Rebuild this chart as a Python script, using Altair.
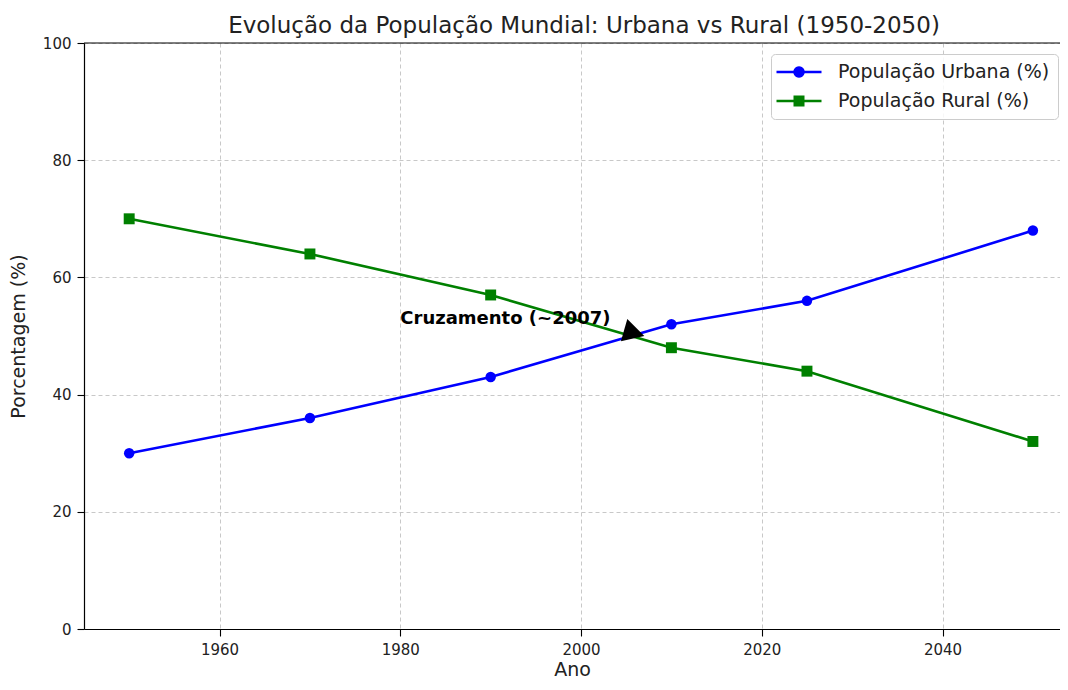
import math
import altair as alt
import pandas as pd

# ---- data ----
anos = [1950, 1970, 1990, 2010, 2025, 2050]
urbana = [30, 36, 43, 52, 56, 68]
rural = [70, 64, 57, 48, 44, 32]
series = ["População Urbana (%)", "População Rural (%)"]
cores = ["#0000ff", "#008000"]
x_ticks = [1960, 1980, 2000, 2020, 2040]
y_ticks = [0, 20, 40, 60, 80, 100]
anot_texto = ["Cruzamento (~2007)"]
anot_texto_ano = [1980]
anot_texto_valor = [52]
anot_alvo_ano = [2007]
anot_alvo_valor = [50]

FONT = "DejaVu Sans"
W, H = 976, 586

df = pd.DataFrame({
    "ano": anos * 2,
    "valor": urbana + rural,
    "serie": [series[0]] * len(anos) + [series[1]] * len(anos),
})
df_txt = pd.DataFrame({"ano": anot_texto_ano, "valor": anot_texto_valor, "t": anot_texto})
df_arr = pd.DataFrame({"ano": anot_alvo_ano, "valor": anot_alvo_valor})
df_one = pd.DataFrame({"k": [0]})

xs = alt.Scale(domain=[1945, 2053.0], nice=False, zero=False)
ys = alt.Scale(domain=[0, 100], nice=False)
x = alt.X("ano:Q", scale=xs, axis=alt.Axis(values=x_ticks, format="d", title="Ano"))
y = alt.Y("valor:Q", scale=ys, axis=alt.Axis(values=y_ticks, title="Porcentagem (%)"))
cscale = alt.Scale(domain=series, range=cores)

# legend symbols: line + marker (custom paths, clockwise); unit = 10 px
bar = "M-2.25,-0.125H2.25V0.125H-2.25Z"
r = 0.575
circ = "M" + "L".join(
    f"{r * math.cos(2 * math.pi * k / 24):.3f},{r * math.sin(2 * math.pi * k / 24):.3f}"
    for k in range(24)
) + "Z"
path_c = bar + " " + circ
path_s = bar + " M-0.55,-0.55H0.55V0.55H-0.55Z"

leg = alt.Legend(
    title=None, orient="none", legendX=687, legendY=11,
    symbolSize=400, symbolStrokeWidth=0, symbolOffset=10,
    labelFont=FONT, labelFontSize=19, labelColor="#222222", labelLimit=400,
    fillColor="rgba(255,255,255,0.85)", strokeColor="#cccccc",
    cornerRadius=4, padding=8, rowPadding=9, labelOffset=29,
)

legend_layer = alt.Chart(df).transform_filter("false").mark_point(
    filled=True, opacity=1, size=400
).encode(
    x=x, y=y,
    color=alt.Color("serie:N", scale=cscale, legend=leg),
    shape=alt.Shape("serie:N", scale=alt.Scale(domain=series, range=[path_c, path_s]), legend=leg),
)

lines = alt.Chart(df).mark_line(strokeWidth=2.6).encode(
    x=x, y=y, color=alt.Color("serie:N", scale=cscale, legend=None)
)
pts_u = alt.Chart(df).transform_filter(alt.datum.serie == series[0]).mark_point(
    shape="circle", filled=True, size=110, opacity=1
).encode(x=x, y=y, color=alt.Color("serie:N", scale=cscale, legend=None))
pts_r = alt.Chart(df).transform_filter(alt.datum.serie == series[1]).mark_point(
    shape="square", filled=True, size=120, opacity=1
).encode(x=x, y=y, color=alt.Color("serie:N", scale=cscale, legend=None))

arrow = alt.Chart(df_arr).mark_point(
    shape="M0,0L-1,-0.55L-1,0.55Z", filled=True, color="black", opacity=1,
    size=1764, angle=16, strokeWidth=0
).encode(x=x, y=y)

txt = alt.Chart(df_txt).mark_text(
    align="left", baseline="alphabetic", font=FONT, fontSize=18,
    fontWeight="bold", color="black"
).encode(x=x, y=y, text="t:N")

top = alt.Chart(df_one).mark_rule(color="black", strokeWidth=1.2).encode(
    x=alt.value(0), x2=alt.value(W), y=alt.value(0)
)

chart = alt.layer(legend_layer, lines, pts_u, pts_r, txt, arrow, top).properties(
    width=W, height=H,
    autosize=alt.AutoSizeParams(type="none"),
    padding={"left": 76, "top": 35, "right": 0, "bottom": 49},
    title=alt.Title(
        "Evolução da População Mundial: Urbana vs Rural (1950-2050)",
        font=FONT, fontSize=23, fontWeight="normal", color="#222222",
        anchor="middle", dx=12, offset=-2,
    ),
).configure_view(stroke=None).configure_axis(
    domainColor="black", domainWidth=1.2, tickColor="black", tickSize=7,
    tickWidth=1.1, labelFont=FONT, labelFontSize=15, labelColor="#222222",
    titleFont=FONT, titleFontSize=19, titleFontWeight="normal",
    titleColor="#222222", grid=True, gridColor="#c8c8c8", gridDash=[4, 3],
    gridWidth=1,
).configure_axisX(
    labelPadding=6, titleY=46, titleBaseline="alphabetic"
).configure_axisY(
    labelPadding=6, titleX=-66, titleBaseline="middle"
)

chart.save("out.html", embed_options={"renderer": "svg", "actions": False})
